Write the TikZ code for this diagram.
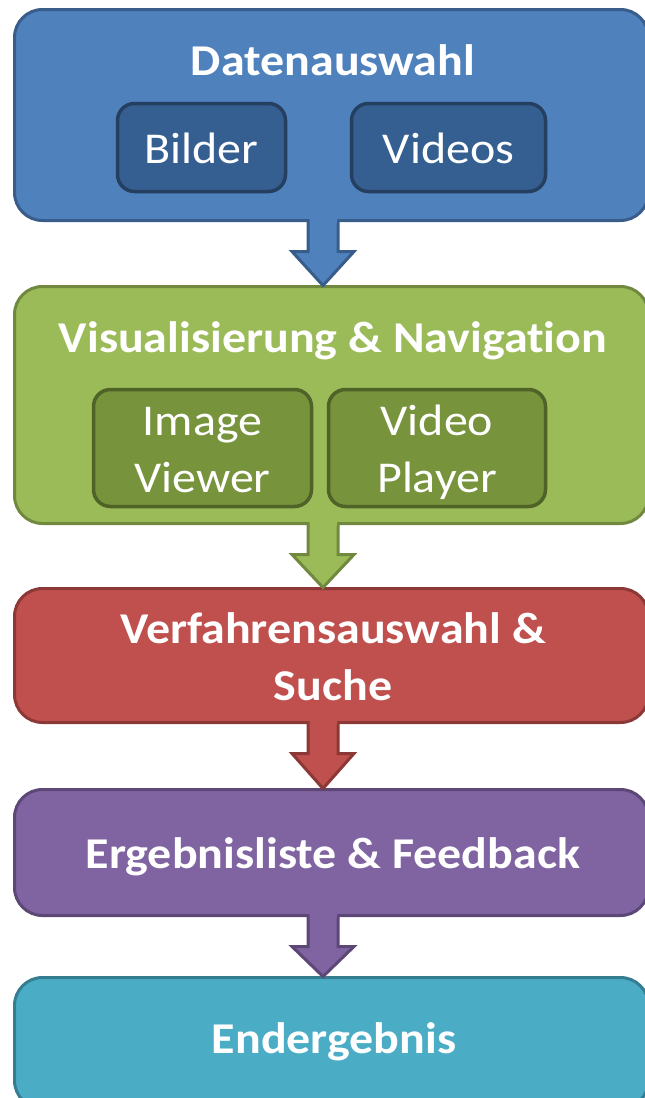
\documentclass[tikz,border=0pt]{standalone}
\usepackage{fontspec}
\setmainfont{Carlito}[FakeStretch=1.09, Ligatures=CommonOff]
\usetikzlibrary{calc}
\definecolor{bfill}{HTML}{4F81BD}\definecolor{bdraw}{HTML}{385D8A}
\definecolor{bifill}{HTML}{365F91}\definecolor{bidraw}{HTML}{243F60}
\definecolor{gfill}{HTML}{9BBB59}\definecolor{gdraw}{HTML}{71893F}
\definecolor{gifill}{HTML}{77933C}\definecolor{gidraw}{HTML}{4F6228}
\definecolor{rfill}{HTML}{C0504D}\definecolor{rdraw}{HTML}{8C3836}
\definecolor{pfill}{HTML}{8064A2}\definecolor{pdraw}{HTML}{5C4776}
\definecolor{tfill}{HTML}{4BACC6}\definecolor{tdraw}{HTML}{357D91}
\tikzset{
  bigbox/.style={rectangle, rounded corners=28pt, line width=3pt, inner sep=0pt, outer sep=0pt},
  innerbox/.style={rectangle, rounded corners=17pt, line width=3.5pt, inner sep=0pt, outer sep=0pt},
  titletext/.style={text=white, font=\fontsize{44}{57}\selectfont\bfseries, align=center, anchor=base, inner sep=0pt},
  boxtext/.style={text=white, font=\fontsize{44}{57}\selectfont, align=center, anchor=base, inner sep=0pt},
  flowarrow/.style={line width=3pt, line join=miter},
}
\begin{document}
\begin{tikzpicture}[x=1pt,y=-1pt]
\useasboundingbox (0,0) rectangle (645,1098);
\coordinate (ax) at (323,0);
% big boxes (centres / sizes measured on the border line)
\node[bigbox, fill=bfill, draw=bdraw, minimum width=634pt, minimum height=211pt] (b1) at (331.5,115) {};
\node[bigbox, fill=gfill, draw=gdraw, minimum width=634pt, minimum height=237pt] (b2) at (331.5,405) {};
\node[bigbox, fill=rfill, draw=rdraw, minimum width=634pt, minimum height=134pt] (b3) at (331.5,655.5) {};
\node[bigbox, fill=pfill, draw=pdraw, minimum width=634pt, minimum height=126pt] (b4) at (331.5,852.5) {};
\node[bigbox, fill=tfill, draw=tdraw, minimum width=634pt, minimum height=131pt] (b5) at (331.5,1043) {};
% arrows
\foreach \f/\t/\fc/\dc in {b1/b2/bfill/bdraw, b2/b3/gfill/gdraw, b3/b4/rfill/rdraw, b4/b5/pfill/pdraw}{
  \draw[flowarrow, fill=\fc, draw=\dc] let \p1=(\f.south -| ax), \p2=(\t.north -| ax) in
    (\x1-15,\y1+1) -- (\x1-15,\y1-31) -- (\x1-31,\y1-31) -- (\x2,\y2+1) -- (\x1+31,\y1-31) -- (\x1+15,\y1-31) -- (\x1+15,\y1+1);
  \fill[\fc] let \p1=(\f.south -| ax) in (\x1-13.5,\y1+3) rectangle (\x1+13.5,\y1-2);
}
% inner boxes
\node[innerbox, fill=bifill, draw=bidraw, minimum width=168pt, minimum height=88pt] (i1) at (201.5,147.5) {};
\node[innerbox, fill=bifill, draw=bidraw, minimum width=194pt, minimum height=88pt] (i2) at (448.5,147.5) {};
\node[innerbox, fill=gifill, draw=gidraw, minimum width=218pt, minimum height=117pt] (i3) at (202.5,448) {};
\node[innerbox, fill=gifill, draw=gidraw, minimum width=217pt, minimum height=117pt] (i4) at (437,448) {};
% texts (base = baseline of the last line)
\node[titletext] (t1) at (333,75) {Datenauswahl};
\node[boxtext] (l1) at (201.5,163) {Bilder};
\node[boxtext] (l2) at (448.5,163) {Videos};
\node[titletext] (t2) at (333,352) {Visualisierung \& Navigation};
\node[boxtext] (l3) at (202.5,492) {Image\\Viewer};
\node[boxtext] (l4) at (437,492) {Video\\Player};
\node[titletext] (t3) at (333,700) {Verfahrensauswahl \&\\Suche};
\node[titletext] (t4) at (333,868) {Ergebnisliste \& Feedback};
\node[titletext] (t5) at (334,1053) {Endergebnis};
\end{tikzpicture}
\end{document}
